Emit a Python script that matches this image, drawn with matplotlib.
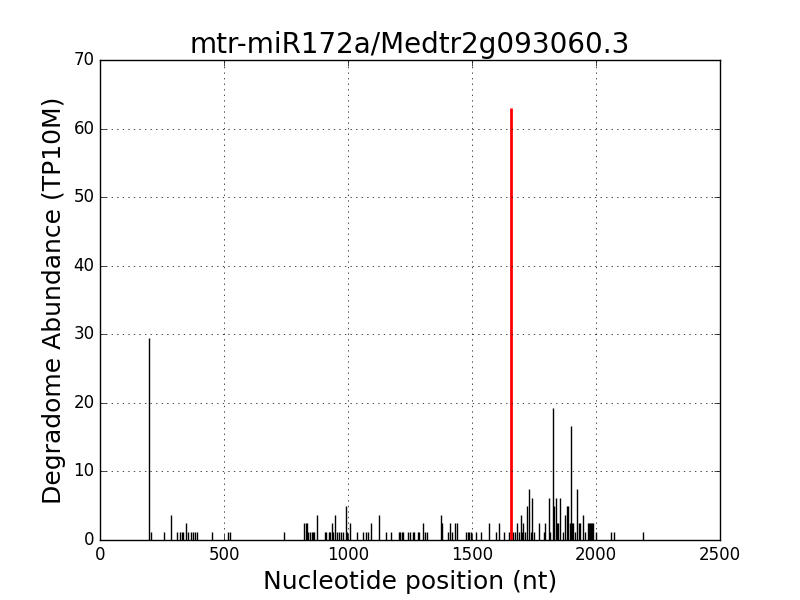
import matplotlib
matplotlib.use("Agg")
import matplotlib.pyplot as plt

plt.style.use("classic")

positions = [199, 204, 259, 286, 312, 322, 331, 336, 345, 353, 365, 377, 385, 392,
             453, 518, 525, 743, 824, 829, 835, 840, 847, 854, 859, 864, 875,
             907, 913, 922, 927, 935, 941, 948, 954, 962, 970, 978, 991, 996, 1008,
             1035, 1062, 1073, 1082, 1093, 1126, 1152, 1173, 1206, 1211, 1216, 1223,
             1241, 1250, 1261, 1267, 1281, 1287, 1302, 1309, 1320, 1374, 1379,
             1405, 1411, 1418, 1431, 1438, 1477, 1483, 1489, 1496, 1517, 1536,
             1570, 1595, 1610, 1630, 1650, 1667, 1675, 1682, 1688, 1696, 1701,
             1707, 1714, 1723, 1731, 1736, 1743, 1748, 1771, 1789, 1795, 1810,
             1815, 1828, 1830, 1837, 1843, 1848, 1856, 1866, 1876, 1882, 1888,
             1894, 1899, 1903, 1909, 1915, 1925, 1931, 1937, 1946, 1955,
             1968, 1972, 1976, 1980, 1984, 1988, 2001, 2060, 2074, 2190]
abundance = [29.5, 1.23, 1.23, 3.69, 1.23, 1.23, 1.23, 1.23, 2.46, 1.23, 1.23, 1.23, 1.23, 1.23,
             1.23, 1.23, 1.23, 1.23, 2.46, 2.46, 2.46, 1.23, 1.23, 1.23, 1.23, 1.23, 3.69,
             1.23, 1.23, 1.23, 1.23, 2.46, 1.23, 3.69, 1.23, 1.23, 1.23, 1.23, 4.92, 1.23, 2.46,
             1.23, 1.23, 1.23, 1.23, 2.46, 3.69, 1.23, 1.23, 1.23, 1.23, 1.23, 1.23,
             1.23, 1.23, 1.23, 1.23, 1.23, 1.23, 2.46, 1.23, 1.23, 3.69, 2.46,
             1.23, 2.46, 1.23, 2.46, 2.46, 1.23, 1.23, 1.23, 1.23, 1.23, 1.23,
             2.46, 1.23, 2.46, 1.23, 1.23, 1.23, 1.23, 2.46, 1.23, 3.69, 1.23,
             2.46, 1.23, 4.92, 7.38, 1.23, 6.15, 1.23, 2.46, 1.23, 2.46, 6.15,
             1.23, 19.2, 4.92, 6.15, 2.46, 2.46, 6.15, 1.23, 3.69, 4.92, 4.92,
             2.46, 16.6, 2.46, 2.46, 1.23, 7.38, 2.46, 2.46, 3.69, 1.23,
             2.46, 2.46, 2.46, 2.46, 2.46, 2.46, 1.23, 1.23, 1.23, 1.23]

target_position = [1656]
target_abundance = [63.0]

title = "mtr-miR172a/Medtr2g093060.3"

fig = plt.figure(figsize=(8, 6), dpi=100, facecolor="white")
ax = fig.add_subplot(111)
ax.vlines(positions, 0, abundance, colors="black", linewidth=1)
ax.vlines(target_position, 0, target_abundance, colors="red", linewidth=2)
ax.set_xlim(0, 2500)
ax.set_ylim(0, 70)
ax.set_xticks([0, 500, 1000, 1500, 2000, 2500])
ax.set_yticks(range(0, 71, 10))
ax.grid(True)
ax.set_title(title, fontsize=20)
ax.set_xlabel("Nucleotide position (nt)", fontsize=18)
ax.set_ylabel("Degradome Abundance (TP10M)", fontsize=18)
ax.tick_params(labelsize=12)
fig.subplots_adjust(left=0.125, right=0.9, bottom=0.1, top=0.9)
fig.savefig("out.png", dpi=100, facecolor="white")
